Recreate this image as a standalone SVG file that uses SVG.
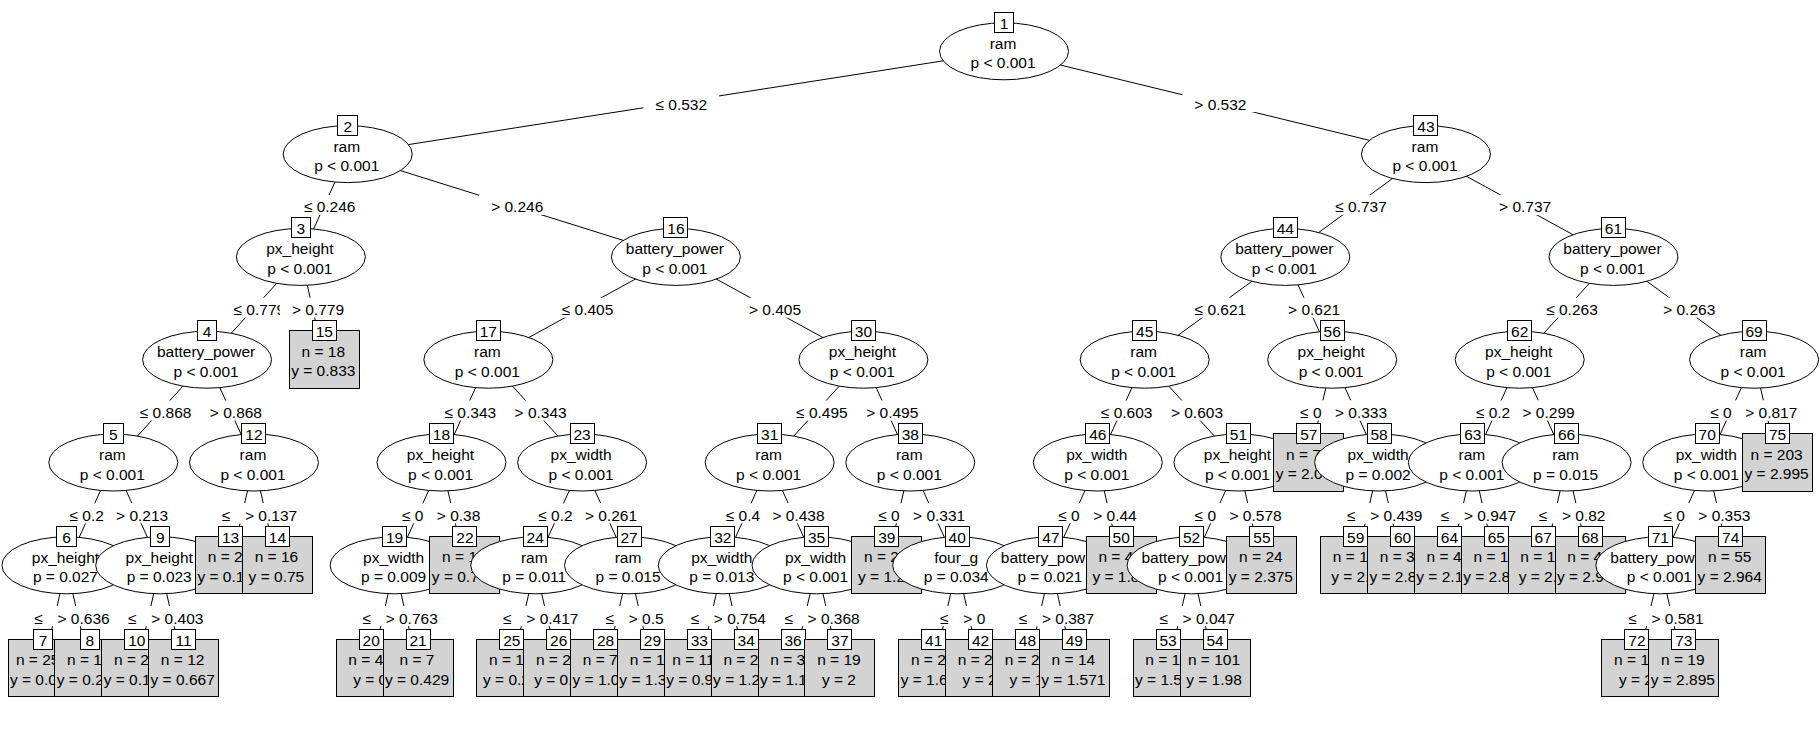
<svg xmlns="http://www.w3.org/2000/svg" xmlns:xlink="http://www.w3.org/1999/xlink" width="1820" height="738" viewBox="0 0 1820 738">
<style>
text{font-family:"Liberation Sans",Arial,Helvetica,sans-serif;font-size:15.5px;fill:#000}
.c{text-anchor:middle}
#connectors line{stroke:#000;stroke-width:1}
.bg{fill:#fff}
</style>
<defs>
<ellipse id="ell" cx="0" cy="29" rx="64.5" ry="28.5" fill="#fff" stroke="#000" stroke-width="1"/>
<rect id="term" x="-35" y="0" width="70" height="57.5" fill="#d3d3d3" stroke="#000" stroke-width="1" shape-rendering="crispEdges"/>
<rect id="id1" x="-9.75" y="-10" width="19.5" height="20" fill="#fff" stroke="#000" stroke-width="1" shape-rendering="crispEdges"/>
<rect id="id2" x="-12" y="-10" width="24" height="20" fill="#fff" stroke="#000" stroke-width="1" shape-rendering="crispEdges"/>
</defs>
<rect width="1820" height="738" fill="#fff"/>
<g id="connectors">
<line x1="1004.04" y1="51.3" x2="347.72" y2="154.1"/>
<line x1="1004.04" y1="51.3" x2="1425.96" y2="154.1"/>
<line x1="347.72" y1="154.1" x2="300.84" y2="256.9"/>
<line x1="347.72" y1="154.1" x2="675.88" y2="256.9"/>
<line x1="300.84" y1="256.9" x2="207.08" y2="359.7"/>
<line x1="300.84" y1="256.9" x2="324.28" y2="359.7"/>
<line x1="207.08" y1="359.7" x2="113.32" y2="462.5"/>
<line x1="207.08" y1="359.7" x2="253.96" y2="462.5"/>
<line x1="113.32" y1="462.5" x2="66.44" y2="565.3"/>
<line x1="113.32" y1="462.5" x2="160.2" y2="565.3"/>
<line x1="66.44" y1="565.3" x2="43" y2="668.1"/>
<line x1="66.44" y1="565.3" x2="89.88" y2="668.1"/>
<line x1="160.2" y1="565.3" x2="136.76" y2="668.1"/>
<line x1="160.2" y1="565.3" x2="183.64" y2="668.1"/>
<line x1="253.96" y1="462.5" x2="230.52" y2="565.3"/>
<line x1="253.96" y1="462.5" x2="277.4" y2="565.3"/>
<line x1="675.88" y1="256.9" x2="488.36" y2="359.7"/>
<line x1="675.88" y1="256.9" x2="863.4" y2="359.7"/>
<line x1="488.36" y1="359.7" x2="441.48" y2="462.5"/>
<line x1="488.36" y1="359.7" x2="582.12" y2="462.5"/>
<line x1="441.48" y1="462.5" x2="394.6" y2="565.3"/>
<line x1="441.48" y1="462.5" x2="464.92" y2="565.3"/>
<line x1="394.6" y1="565.3" x2="371.16" y2="668.1"/>
<line x1="394.6" y1="565.3" x2="418.04" y2="668.1"/>
<line x1="582.12" y1="462.5" x2="535.24" y2="565.3"/>
<line x1="582.12" y1="462.5" x2="629" y2="565.3"/>
<line x1="535.24" y1="565.3" x2="511.8" y2="668.1"/>
<line x1="535.24" y1="565.3" x2="558.68" y2="668.1"/>
<line x1="629" y1="565.3" x2="605.56" y2="668.1"/>
<line x1="629" y1="565.3" x2="652.44" y2="668.1"/>
<line x1="863.4" y1="359.7" x2="769.64" y2="462.5"/>
<line x1="863.4" y1="359.7" x2="910.28" y2="462.5"/>
<line x1="769.64" y1="462.5" x2="722.76" y2="565.3"/>
<line x1="769.64" y1="462.5" x2="816.52" y2="565.3"/>
<line x1="722.76" y1="565.3" x2="699.32" y2="668.1"/>
<line x1="722.76" y1="565.3" x2="746.2" y2="668.1"/>
<line x1="816.52" y1="565.3" x2="793.08" y2="668.1"/>
<line x1="816.52" y1="565.3" x2="839.96" y2="668.1"/>
<line x1="910.28" y1="462.5" x2="886.84" y2="565.3"/>
<line x1="910.28" y1="462.5" x2="957.16" y2="565.3"/>
<line x1="957.16" y1="565.3" x2="933.72" y2="668.1"/>
<line x1="957.16" y1="565.3" x2="980.6" y2="668.1"/>
<line x1="1425.96" y1="154.1" x2="1285.32" y2="256.9"/>
<line x1="1425.96" y1="154.1" x2="1613.48" y2="256.9"/>
<line x1="1285.32" y1="256.9" x2="1144.68" y2="359.7"/>
<line x1="1285.32" y1="256.9" x2="1332.2" y2="359.7"/>
<line x1="1144.68" y1="359.7" x2="1097.8" y2="462.5"/>
<line x1="1144.68" y1="359.7" x2="1238.44" y2="462.5"/>
<line x1="1097.8" y1="462.5" x2="1050.92" y2="565.3"/>
<line x1="1097.8" y1="462.5" x2="1121.24" y2="565.3"/>
<line x1="1050.92" y1="565.3" x2="1027.48" y2="668.1"/>
<line x1="1050.92" y1="565.3" x2="1074.36" y2="668.1"/>
<line x1="1238.44" y1="462.5" x2="1191.56" y2="565.3"/>
<line x1="1238.44" y1="462.5" x2="1261.88" y2="565.3"/>
<line x1="1191.56" y1="565.3" x2="1168.12" y2="668.1"/>
<line x1="1191.56" y1="565.3" x2="1215" y2="668.1"/>
<line x1="1332.2" y1="359.7" x2="1308.76" y2="462.5"/>
<line x1="1332.2" y1="359.7" x2="1379.08" y2="462.5"/>
<line x1="1379.08" y1="462.5" x2="1355.64" y2="565.3"/>
<line x1="1379.08" y1="462.5" x2="1402.52" y2="565.3"/>
<line x1="1613.48" y1="256.9" x2="1519.72" y2="359.7"/>
<line x1="1613.48" y1="256.9" x2="1754.12" y2="359.7"/>
<line x1="1519.72" y1="359.7" x2="1472.84" y2="462.5"/>
<line x1="1519.72" y1="359.7" x2="1566.6" y2="462.5"/>
<line x1="1472.84" y1="462.5" x2="1449.4" y2="565.3"/>
<line x1="1472.84" y1="462.5" x2="1496.28" y2="565.3"/>
<line x1="1566.6" y1="462.5" x2="1543.16" y2="565.3"/>
<line x1="1566.6" y1="462.5" x2="1590.04" y2="565.3"/>
<line x1="1754.12" y1="359.7" x2="1707.24" y2="462.5"/>
<line x1="1754.12" y1="359.7" x2="1777.56" y2="462.5"/>
<line x1="1707.24" y1="462.5" x2="1660.36" y2="565.3"/>
<line x1="1707.24" y1="462.5" x2="1730.68" y2="565.3"/>
<line x1="1660.36" y1="565.3" x2="1636.92" y2="668.1"/>
<line x1="1660.36" y1="565.3" x2="1683.8" y2="668.1"/>
<g id="edge-labels">
<rect class="bg" x="643.48" y="92.1" width="75.6" height="20"/><text x="655.48" y="109.6">≤ 0.532</text>
<rect class="bg" x="1182.33" y="92.1" width="76.14" height="20"/><text x="1194.33" y="109.6">&gt; 0.532</text>
<rect class="bg" x="291.88" y="194.9" width="75.6" height="20"/><text x="303.88" y="212.4">≤ 0.246</text>
<rect class="bg" x="479.13" y="194.9" width="76.14" height="20"/><text x="491.13" y="212.4">&gt; 0.246</text>
<rect class="bg" x="221.56" y="297.7" width="75.6" height="20"/><text x="233.56" y="315.2">≤ 0.779</text>
<rect class="bg" x="279.89" y="297.7" width="76.14" height="20"/><text x="291.89" y="315.2">&gt; 0.779</text>
<rect class="bg" x="127.8" y="400.5" width="75.6" height="20"/><text x="139.8" y="418">≤ 0.868</text>
<rect class="bg" x="197.85" y="400.5" width="76.14" height="20"/><text x="209.85" y="418">&gt; 0.868</text>
<rect class="bg" x="57.48" y="503.3" width="75.6" height="20"/><text x="69.48" y="520.8">≤ 0.2</text>
<rect class="bg" x="104.09" y="503.3" width="76.14" height="20"/><text x="116.09" y="520.8">&gt; 0.213</text>
<rect class="bg" x="22.32" y="606.1" width="75.6" height="20"/><text x="34.32" y="623.6">≤</text>
<rect class="bg" x="45.49" y="606.1" width="76.14" height="20"/><text x="57.49" y="623.6">&gt; 0.636</text>
<rect class="bg" x="116.08" y="606.1" width="75.6" height="20"/><text x="128.08" y="623.6">≤</text>
<rect class="bg" x="139.25" y="606.1" width="76.14" height="20"/><text x="151.25" y="623.6">&gt; 0.403</text>
<rect class="bg" x="209.84" y="503.3" width="75.6" height="20"/><text x="221.84" y="520.8">≤</text>
<rect class="bg" x="233.01" y="503.3" width="76.14" height="20"/><text x="245.01" y="520.8">&gt; 0.137</text>
<rect class="bg" x="549.72" y="297.7" width="75.6" height="20"/><text x="561.72" y="315.2">≤ 0.405</text>
<rect class="bg" x="736.97" y="297.7" width="76.14" height="20"/><text x="748.97" y="315.2">&gt; 0.405</text>
<rect class="bg" x="432.52" y="400.5" width="75.6" height="20"/><text x="444.52" y="418">≤ 0.343</text>
<rect class="bg" x="502.57" y="400.5" width="76.14" height="20"/><text x="514.57" y="418">&gt; 0.343</text>
<rect class="bg" x="389.95" y="503.3" width="66.98" height="20"/><text x="401.95" y="520.8">≤ 0</text>
<rect class="bg" x="424.84" y="503.3" width="67.52" height="20"/><text x="436.84" y="520.8">&gt; 0.38</text>
<rect class="bg" x="350.48" y="606.1" width="75.6" height="20"/><text x="362.48" y="623.6">≤</text>
<rect class="bg" x="373.65" y="606.1" width="76.14" height="20"/><text x="385.65" y="623.6">&gt; 0.763</text>
<rect class="bg" x="526.28" y="503.3" width="75.6" height="20"/><text x="538.28" y="520.8">≤ 0.2</text>
<rect class="bg" x="572.89" y="503.3" width="76.14" height="20"/><text x="584.89" y="520.8">&gt; 0.261</text>
<rect class="bg" x="491.12" y="606.1" width="75.6" height="20"/><text x="503.12" y="623.6">≤</text>
<rect class="bg" x="514.29" y="606.1" width="76.14" height="20"/><text x="526.29" y="623.6">&gt; 0.417</text>
<rect class="bg" x="593.5" y="606.1" width="58.36" height="20"/><text x="605.5" y="623.6">≤</text>
<rect class="bg" x="616.67" y="606.1" width="58.91" height="20"/><text x="628.67" y="623.6">&gt; 0.5</text>
<rect class="bg" x="784.12" y="400.5" width="75.6" height="20"/><text x="796.12" y="418">≤ 0.495</text>
<rect class="bg" x="854.17" y="400.5" width="76.14" height="20"/><text x="866.17" y="418">&gt; 0.495</text>
<rect class="bg" x="713.8" y="503.3" width="75.6" height="20"/><text x="725.8" y="520.8">≤ 0.4</text>
<rect class="bg" x="760.41" y="503.3" width="76.14" height="20"/><text x="772.41" y="520.8">&gt; 0.438</text>
<rect class="bg" x="678.64" y="606.1" width="75.6" height="20"/><text x="690.64" y="623.6">≤</text>
<rect class="bg" x="701.81" y="606.1" width="76.14" height="20"/><text x="713.81" y="623.6">&gt; 0.754</text>
<rect class="bg" x="772.4" y="606.1" width="75.6" height="20"/><text x="784.4" y="623.6">≤</text>
<rect class="bg" x="795.57" y="606.1" width="76.14" height="20"/><text x="807.57" y="623.6">&gt; 0.368</text>
<rect class="bg" x="866.16" y="503.3" width="75.6" height="20"/><text x="878.16" y="520.8">≤ 0</text>
<rect class="bg" x="901.05" y="503.3" width="76.14" height="20"/><text x="913.05" y="520.8">&gt; 0.331</text>
<rect class="bg" x="928.12" y="606.1" width="45.44" height="20"/><text x="940.12" y="623.6">≤</text>
<rect class="bg" x="951.29" y="606.1" width="45.98" height="20"/><text x="963.29" y="623.6">&gt; 0</text>
<rect class="bg" x="1323.24" y="194.9" width="75.6" height="20"/><text x="1335.24" y="212.4">≤ 0.737</text>
<rect class="bg" x="1487.05" y="194.9" width="76.14" height="20"/><text x="1499.05" y="212.4">&gt; 0.737</text>
<rect class="bg" x="1182.6" y="297.7" width="75.6" height="20"/><text x="1194.6" y="315.2">≤ 0.621</text>
<rect class="bg" x="1276.09" y="297.7" width="76.14" height="20"/><text x="1288.09" y="315.2">&gt; 0.621</text>
<rect class="bg" x="1088.84" y="400.5" width="75.6" height="20"/><text x="1100.84" y="418">≤ 0.603</text>
<rect class="bg" x="1158.89" y="400.5" width="76.14" height="20"/><text x="1170.89" y="418">&gt; 0.603</text>
<rect class="bg" x="1046.27" y="503.3" width="66.98" height="20"/><text x="1058.27" y="520.8">≤ 0</text>
<rect class="bg" x="1081.16" y="503.3" width="67.52" height="20"/><text x="1093.16" y="520.8">&gt; 0.44</text>
<rect class="bg" x="1006.8" y="606.1" width="75.6" height="20"/><text x="1018.8" y="623.6">≤</text>
<rect class="bg" x="1029.97" y="606.1" width="76.14" height="20"/><text x="1041.97" y="623.6">&gt; 0.387</text>
<rect class="bg" x="1182.6" y="503.3" width="75.6" height="20"/><text x="1194.6" y="520.8">≤ 0</text>
<rect class="bg" x="1217.49" y="503.3" width="76.14" height="20"/><text x="1229.49" y="520.8">&gt; 0.578</text>
<rect class="bg" x="1147.44" y="606.1" width="75.6" height="20"/><text x="1159.44" y="623.6">≤</text>
<rect class="bg" x="1170.61" y="606.1" width="76.14" height="20"/><text x="1182.61" y="623.6">&gt; 0.047</text>
<rect class="bg" x="1288.08" y="400.5" width="75.6" height="20"/><text x="1300.08" y="418">≤ 0</text>
<rect class="bg" x="1322.97" y="400.5" width="76.14" height="20"/><text x="1334.97" y="418">&gt; 0.333</text>
<rect class="bg" x="1334.96" y="503.3" width="75.6" height="20"/><text x="1346.96" y="520.8">≤</text>
<rect class="bg" x="1358.13" y="503.3" width="76.14" height="20"/><text x="1370.13" y="520.8">&gt; 0.439</text>
<rect class="bg" x="1534.2" y="297.7" width="75.6" height="20"/><text x="1546.2" y="315.2">≤ 0.263</text>
<rect class="bg" x="1651.13" y="297.7" width="76.14" height="20"/><text x="1663.13" y="315.2">&gt; 0.263</text>
<rect class="bg" x="1463.88" y="400.5" width="75.6" height="20"/><text x="1475.88" y="418">≤ 0.2</text>
<rect class="bg" x="1510.49" y="400.5" width="76.14" height="20"/><text x="1522.49" y="418">&gt; 0.299</text>
<rect class="bg" x="1428.72" y="503.3" width="75.6" height="20"/><text x="1440.72" y="520.8">≤</text>
<rect class="bg" x="1451.89" y="503.3" width="76.14" height="20"/><text x="1463.89" y="520.8">&gt; 0.947</text>
<rect class="bg" x="1526.79" y="503.3" width="66.98" height="20"/><text x="1538.79" y="520.8">≤</text>
<rect class="bg" x="1549.96" y="503.3" width="67.52" height="20"/><text x="1561.96" y="520.8">&gt; 0.82</text>
<rect class="bg" x="1698.28" y="400.5" width="75.6" height="20"/><text x="1710.28" y="418">≤ 0</text>
<rect class="bg" x="1733.17" y="400.5" width="76.14" height="20"/><text x="1745.17" y="418">&gt; 0.817</text>
<rect class="bg" x="1651.4" y="503.3" width="75.6" height="20"/><text x="1663.4" y="520.8">≤ 0</text>
<rect class="bg" x="1686.29" y="503.3" width="76.14" height="20"/><text x="1698.29" y="520.8">&gt; 0.353</text>
<rect class="bg" x="1616.24" y="606.1" width="75.6" height="20"/><text x="1628.24" y="623.6">≤</text>
<rect class="bg" x="1639.41" y="606.1" width="76.14" height="20"/><text x="1651.41" y="623.6">&gt; 0.581</text>
</g>
</g>
<g id="nodes">
<g id="node1" transform="translate(1004.04,22.3)"><use href="#ell"/><text class="c" x="-1" y="26.5">ram</text><text class="c" x="-1" y="46">p &lt; 0.001</text><use href="#id1"/><text class="c" y="6.5">1</text></g>
<g id="node2" transform="translate(347.72,125.1)"><use href="#ell"/><text class="c" x="-1" y="26.5">ram</text><text class="c" x="-1" y="46">p &lt; 0.001</text><use href="#id1"/><text class="c" y="6.5">2</text></g>
<g id="node3" transform="translate(300.84,227.9)"><use href="#ell"/><text class="c" x="-1" y="26.5">px_height</text><text class="c" x="-1" y="46">p &lt; 0.001</text><use href="#id1"/><text class="c" y="6.5">3</text></g>
<g id="node4" transform="translate(207.08,330.7)"><use href="#ell"/><text class="c" x="-1" y="26.5">battery_power</text><text class="c" x="-1" y="46">p &lt; 0.001</text><use href="#id1"/><text class="c" y="6.5">4</text></g>
<g id="node5" transform="translate(113.32,433.5)"><use href="#ell"/><text class="c" x="-1" y="26.5">ram</text><text class="c" x="-1" y="46">p &lt; 0.001</text><use href="#id1"/><text class="c" y="6.5">5</text></g>
<g id="node6" transform="translate(66.44,536.3)"><use href="#ell"/><text class="c" x="-1" y="26.5">px_height</text><text class="c" x="-1" y="46">p = 0.027</text><use href="#id1"/><text class="c" y="6.5">6</text></g>
<g id="node7" transform="translate(43,639.1)"><use href="#term"/><text x="-27.1" y="26">n = 25</text><text x="-33.1" y="45.5">y = 0.0</text><use href="#id1"/><text class="c" y="6.5">7</text></g>
<g id="node8" transform="translate(89.88,639.1)"><use href="#term"/><text x="-22.8" y="26">n = 1</text><text x="-33.1" y="45.5">y = 0.2</text><use href="#id1"/><text class="c" y="6.5">8</text></g>
<g id="node9" transform="translate(160.2,536.3)"><use href="#ell"/><text class="c" x="-1" y="26.5">px_height</text><text class="c" x="-1" y="46">p = 0.023</text><use href="#id1"/><text class="c" y="6.5">9</text></g>
<g id="node10" transform="translate(136.76,639.1)"><use href="#term"/><text x="-22.8" y="26">n = 2</text><text x="-33.1" y="45.5">y = 0.1</text><use href="#id2"/><text class="c" y="6.5">10</text></g>
<g id="node11" transform="translate(183.64,639.1)"><use href="#term"/><text class="c" x="-1" y="26">n = 12</text><text class="c" x="-1" y="45.5">y = 0.667</text><use href="#id2"/><text class="c" y="6.5">11</text></g>
<g id="node12" transform="translate(253.96,433.5)"><use href="#ell"/><text class="c" x="-1" y="26.5">ram</text><text class="c" x="-1" y="46">p &lt; 0.001</text><use href="#id2"/><text class="c" y="6.5">12</text></g>
<g id="node13" transform="translate(230.52,536.3)"><use href="#term"/><text x="-22.8" y="26">n = 2</text><text x="-33.1" y="45.5">y = 0.1</text><use href="#id2"/><text class="c" y="6.5">13</text></g>
<g id="node14" transform="translate(277.4,536.3)"><use href="#term"/><text class="c" x="-1" y="26">n = 16</text><text class="c" x="-1" y="45.5">y = 0.75</text><use href="#id2"/><text class="c" y="6.5">14</text></g>
<g id="node15" transform="translate(324.28,330.7)"><use href="#term"/><text class="c" x="-1" y="26">n = 18</text><text class="c" x="-1" y="45.5">y = 0.833</text><use href="#id2"/><text class="c" y="6.5">15</text></g>
<g id="node16" transform="translate(675.88,227.9)"><use href="#ell"/><text class="c" x="-1" y="26.5">battery_power</text><text class="c" x="-1" y="46">p &lt; 0.001</text><use href="#id2"/><text class="c" y="6.5">16</text></g>
<g id="node17" transform="translate(488.36,330.7)"><use href="#ell"/><text class="c" x="-1" y="26.5">ram</text><text class="c" x="-1" y="46">p &lt; 0.001</text><use href="#id2"/><text class="c" y="6.5">17</text></g>
<g id="node18" transform="translate(441.48,433.5)"><use href="#ell"/><text class="c" x="-1" y="26.5">px_height</text><text class="c" x="-1" y="46">p &lt; 0.001</text><use href="#id2"/><text class="c" y="6.5">18</text></g>
<g id="node19" transform="translate(394.6,536.3)"><use href="#ell"/><text class="c" x="-1" y="26.5">px_width</text><text class="c" x="-1" y="46">p = 0.009</text><use href="#id2"/><text class="c" y="6.5">19</text></g>
<g id="node20" transform="translate(371.16,639.1)"><use href="#term"/><text x="-22.8" y="26">n = 4</text><text x="-18" y="45.5">y = 0</text><use href="#id2"/><text class="c" y="6.5">20</text></g>
<g id="node21" transform="translate(418.04,639.1)"><use href="#term"/><text class="c" x="-1" y="26">n = 7</text><text class="c" x="-1" y="45.5">y = 0.429</text><use href="#id2"/><text class="c" y="6.5">21</text></g>
<g id="node22" transform="translate(464.92,536.3)"><use href="#term"/><text x="-22.8" y="26">n = 1</text><text x="-33.1" y="45.5">y = 0.7</text><use href="#id2"/><text class="c" y="6.5">22</text></g>
<g id="node23" transform="translate(582.12,433.5)"><use href="#ell"/><text class="c" x="-1" y="26.5">px_width</text><text class="c" x="-1" y="46">p &lt; 0.001</text><use href="#id2"/><text class="c" y="6.5">23</text></g>
<g id="node24" transform="translate(535.24,536.3)"><use href="#ell"/><text class="c" x="-1" y="26.5">ram</text><text class="c" x="-1" y="46">p = 0.011</text><use href="#id2"/><text class="c" y="6.5">24</text></g>
<g id="node25" transform="translate(511.8,639.1)"><use href="#term"/><text x="-22.8" y="26">n = 1</text><text x="-28.8" y="45.5">y = 0.2</text><use href="#id2"/><text class="c" y="6.5">25</text></g>
<g id="node26" transform="translate(558.68,639.1)"><use href="#term"/><text x="-22.8" y="26">n = 2</text><text x="-24.5" y="45.5">y = 0.</text><use href="#id2"/><text class="c" y="6.5">26</text></g>
<g id="node27" transform="translate(629,536.3)"><use href="#ell"/><text class="c" x="-1" y="26.5">ram</text><text class="c" x="-1" y="46">p = 0.015</text><use href="#id2"/><text class="c" y="6.5">27</text></g>
<g id="node28" transform="translate(605.56,639.1)"><use href="#term"/><text x="-22.8" y="26">n = 7</text><text x="-33.1" y="45.5">y = 1.0</text><use href="#id2"/><text class="c" y="6.5">28</text></g>
<g id="node29" transform="translate(652.44,639.1)"><use href="#term"/><text x="-22.8" y="26">n = 1</text><text x="-33.1" y="45.5">y = 1.3</text><use href="#id2"/><text class="c" y="6.5">29</text></g>
<g id="node30" transform="translate(863.4,330.7)"><use href="#ell"/><text class="c" x="-1" y="26.5">px_height</text><text class="c" x="-1" y="46">p &lt; 0.001</text><use href="#id2"/><text class="c" y="6.5">30</text></g>
<g id="node31" transform="translate(769.64,433.5)"><use href="#ell"/><text class="c" x="-1" y="26.5">ram</text><text class="c" x="-1" y="46">p &lt; 0.001</text><use href="#id2"/><text class="c" y="6.5">31</text></g>
<g id="node32" transform="translate(722.76,536.3)"><use href="#ell"/><text class="c" x="-1" y="26.5">px_width</text><text class="c" x="-1" y="46">p = 0.013</text><use href="#id2"/><text class="c" y="6.5">32</text></g>
<g id="node33" transform="translate(699.32,639.1)"><use href="#term"/><text x="-27.1" y="26">n = 11</text><text x="-33.1" y="45.5">y = 0.9</text><use href="#id2"/><text class="c" y="6.5">33</text></g>
<g id="node34" transform="translate(746.2,639.1)"><use href="#term"/><text x="-22.8" y="26">n = 2</text><text x="-33.1" y="45.5">y = 1.2</text><use href="#id2"/><text class="c" y="6.5">34</text></g>
<g id="node35" transform="translate(816.52,536.3)"><use href="#ell"/><text class="c" x="-1" y="26.5">px_width</text><text class="c" x="-1" y="46">p &lt; 0.001</text><use href="#id2"/><text class="c" y="6.5">35</text></g>
<g id="node36" transform="translate(793.08,639.1)"><use href="#term"/><text x="-22.8" y="26">n = 3</text><text x="-33.1" y="45.5">y = 1.1</text><use href="#id2"/><text class="c" y="6.5">36</text></g>
<g id="node37" transform="translate(839.96,639.1)"><use href="#term"/><text class="c" x="-1" y="26">n = 19</text><text class="c" x="-1" y="45.5">y = 2</text><use href="#id2"/><text class="c" y="6.5">37</text></g>
<g id="node38" transform="translate(910.28,433.5)"><use href="#ell"/><text class="c" x="-1" y="26.5">ram</text><text class="c" x="-1" y="46">p &lt; 0.001</text><use href="#id2"/><text class="c" y="6.5">38</text></g>
<g id="node39" transform="translate(886.84,536.3)"><use href="#term"/><text x="-22.8" y="26">n = 2</text><text x="-28.8" y="45.5">y = 1.2</text><use href="#id2"/><text class="c" y="6.5">39</text></g>
<g id="node40" transform="translate(957.16,536.3)"><use href="#ell"/><text class="c" x="-1" y="26.5">four_g</text><text class="c" x="-1" y="46">p = 0.034</text><use href="#id2"/><text class="c" y="6.5">40</text></g>
<g id="node41" transform="translate(933.72,639.1)"><use href="#term"/><text x="-22.8" y="26">n = 2</text><text x="-33.1" y="45.5">y = 1.6</text><use href="#id2"/><text class="c" y="6.5">41</text></g>
<g id="node42" transform="translate(980.6,639.1)"><use href="#term"/><text x="-22.8" y="26">n = 2</text><text x="-18" y="45.5">y = 2</text><use href="#id2"/><text class="c" y="6.5">42</text></g>
<g id="node43" transform="translate(1425.96,125.1)"><use href="#ell"/><text class="c" x="-1" y="26.5">ram</text><text class="c" x="-1" y="46">p &lt; 0.001</text><use href="#id2"/><text class="c" y="6.5">43</text></g>
<g id="node44" transform="translate(1285.32,227.9)"><use href="#ell"/><text class="c" x="-1" y="26.5">battery_power</text><text class="c" x="-1" y="46">p &lt; 0.001</text><use href="#id2"/><text class="c" y="6.5">44</text></g>
<g id="node45" transform="translate(1144.68,330.7)"><use href="#ell"/><text class="c" x="-1" y="26.5">ram</text><text class="c" x="-1" y="46">p &lt; 0.001</text><use href="#id2"/><text class="c" y="6.5">45</text></g>
<g id="node46" transform="translate(1097.8,433.5)"><use href="#ell"/><text class="c" x="-1" y="26.5">px_width</text><text class="c" x="-1" y="46">p &lt; 0.001</text><use href="#id2"/><text class="c" y="6.5">46</text></g>
<g id="node47" transform="translate(1050.92,536.3)"><use href="#ell"/><text x="-50.1" y="26.5">battery_pow</text><text class="c" x="-1" y="46">p = 0.021</text><use href="#id2"/><text class="c" y="6.5">47</text></g>
<g id="node48" transform="translate(1027.48,639.1)"><use href="#term"/><text x="-22.8" y="26">n = 2</text><text x="-18" y="45.5">y = 1</text><use href="#id2"/><text class="c" y="6.5">48</text></g>
<g id="node49" transform="translate(1074.36,639.1)"><use href="#term"/><text class="c" x="-1" y="26">n = 14</text><text class="c" x="-1" y="45.5">y = 1.571</text><use href="#id2"/><text class="c" y="6.5">49</text></g>
<g id="node50" transform="translate(1121.24,536.3)"><use href="#term"/><text x="-22.8" y="26">n = 4</text><text x="-28.8" y="45.5">y = 1.8</text><use href="#id2"/><text class="c" y="6.5">50</text></g>
<g id="node51" transform="translate(1238.44,433.5)"><use href="#ell"/><text class="c" x="-1" y="26.5">px_height</text><text class="c" x="-1" y="46">p &lt; 0.001</text><use href="#id2"/><text class="c" y="6.5">51</text></g>
<g id="node52" transform="translate(1191.56,536.3)"><use href="#ell"/><text x="-50.1" y="26.5">battery_pow</text><text class="c" x="-1" y="46">p &lt; 0.001</text><use href="#id2"/><text class="c" y="6.5">52</text></g>
<g id="node53" transform="translate(1168.12,639.1)"><use href="#term"/><text x="-22.8" y="26">n = 1</text><text x="-33.1" y="45.5">y = 1.5</text><use href="#id2"/><text class="c" y="6.5">53</text></g>
<g id="node54" transform="translate(1215,639.1)"><use href="#term"/><text class="c" x="-1" y="26">n = 101</text><text class="c" x="-1" y="45.5">y = 1.98</text><use href="#id2"/><text class="c" y="6.5">54</text></g>
<g id="node55" transform="translate(1261.88,536.3)"><use href="#term"/><text class="c" x="-1" y="26">n = 24</text><text class="c" x="-1" y="45.5">y = 2.375</text><use href="#id2"/><text class="c" y="6.5">55</text></g>
<g id="node56" transform="translate(1332.2,330.7)"><use href="#ell"/><text class="c" x="-1" y="26.5">px_height</text><text class="c" x="-1" y="46">p &lt; 0.001</text><use href="#id2"/><text class="c" y="6.5">56</text></g>
<g id="node57" transform="translate(1308.76,433.5)"><use href="#term"/><text x="-22.8" y="26">n = 7</text><text x="-33.1" y="45.5">y = 2.0</text><use href="#id2"/><text class="c" y="6.5">57</text></g>
<g id="node58" transform="translate(1379.08,433.5)"><use href="#ell"/><text class="c" x="-1" y="26.5">px_width</text><text class="c" x="-1" y="46">p = 0.002</text><use href="#id2"/><text class="c" y="6.5">58</text></g>
<g id="node59" transform="translate(1355.64,536.3)"><use href="#term"/><text x="-22.8" y="26">n = 1</text><text x="-24.5" y="45.5">y = 2.</text><use href="#id2"/><text class="c" y="6.5">59</text></g>
<g id="node60" transform="translate(1402.52,536.3)"><use href="#term"/><text x="-22.8" y="26">n = 3</text><text x="-33.1" y="45.5">y = 2.8</text><use href="#id2"/><text class="c" y="6.5">60</text></g>
<g id="node61" transform="translate(1613.48,227.9)"><use href="#ell"/><text class="c" x="-1" y="26.5">battery_power</text><text class="c" x="-1" y="46">p &lt; 0.001</text><use href="#id2"/><text class="c" y="6.5">61</text></g>
<g id="node62" transform="translate(1519.72,330.7)"><use href="#ell"/><text class="c" x="-1" y="26.5">px_height</text><text class="c" x="-1" y="46">p &lt; 0.001</text><use href="#id2"/><text class="c" y="6.5">62</text></g>
<g id="node63" transform="translate(1472.84,433.5)"><use href="#ell"/><text class="c" x="-1" y="26.5">ram</text><text class="c" x="-1" y="46">p &lt; 0.001</text><use href="#id2"/><text class="c" y="6.5">63</text></g>
<g id="node64" transform="translate(1449.4,536.3)"><use href="#term"/><text x="-22.8" y="26">n = 4</text><text x="-33.1" y="45.5">y = 2.1</text><use href="#id2"/><text class="c" y="6.5">64</text></g>
<g id="node65" transform="translate(1496.28,536.3)"><use href="#term"/><text x="-22.8" y="26">n = 1</text><text x="-33.1" y="45.5">y = 2.8</text><use href="#id2"/><text class="c" y="6.5">65</text></g>
<g id="node66" transform="translate(1566.6,433.5)"><use href="#ell"/><text class="c" x="-1" y="26.5">ram</text><text class="c" x="-1" y="46">p = 0.015</text><use href="#id2"/><text class="c" y="6.5">66</text></g>
<g id="node67" transform="translate(1543.16,536.3)"><use href="#term"/><text x="-22.8" y="26">n = 1</text><text x="-24.5" y="45.5">y = 2.</text><use href="#id2"/><text class="c" y="6.5">67</text></g>
<g id="node68" transform="translate(1590.04,536.3)"><use href="#term"/><text x="-22.8" y="26">n = 4</text><text x="-33.1" y="45.5">y = 2.9</text><use href="#id2"/><text class="c" y="6.5">68</text></g>
<g id="node69" transform="translate(1754.12,330.7)"><use href="#ell"/><text class="c" x="-1" y="26.5">ram</text><text class="c" x="-1" y="46">p &lt; 0.001</text><use href="#id2"/><text class="c" y="6.5">69</text></g>
<g id="node70" transform="translate(1707.24,433.5)"><use href="#ell"/><text class="c" x="-1" y="26.5">px_width</text><text class="c" x="-1" y="46">p &lt; 0.001</text><use href="#id2"/><text class="c" y="6.5">70</text></g>
<g id="node71" transform="translate(1660.36,536.3)"><use href="#ell"/><text x="-50.1" y="26.5">battery_pow</text><text class="c" x="-1" y="46">p &lt; 0.001</text><use href="#id2"/><text class="c" y="6.5">71</text></g>
<g id="node72" transform="translate(1636.92,639.1)"><use href="#term"/><text x="-22.8" y="26">n = 1</text><text x="-18" y="45.5">y = 2</text><use href="#id2"/><text class="c" y="6.5">72</text></g>
<g id="node73" transform="translate(1683.8,639.1)"><use href="#term"/><text class="c" x="-1" y="26">n = 19</text><text class="c" x="-1" y="45.5">y = 2.895</text><use href="#id2"/><text class="c" y="6.5">73</text></g>
<g id="node74" transform="translate(1730.68,536.3)"><use href="#term"/><text class="c" x="-1" y="26">n = 55</text><text class="c" x="-1" y="45.5">y = 2.964</text><use href="#id2"/><text class="c" y="6.5">74</text></g>
<g id="node75" transform="translate(1777.56,433.5)"><use href="#term"/><text class="c" x="-1" y="26">n = 203</text><text class="c" x="-1" y="45.5">y = 2.995</text><use href="#id2"/><text class="c" y="6.5">75</text></g>
</g>
</svg>
